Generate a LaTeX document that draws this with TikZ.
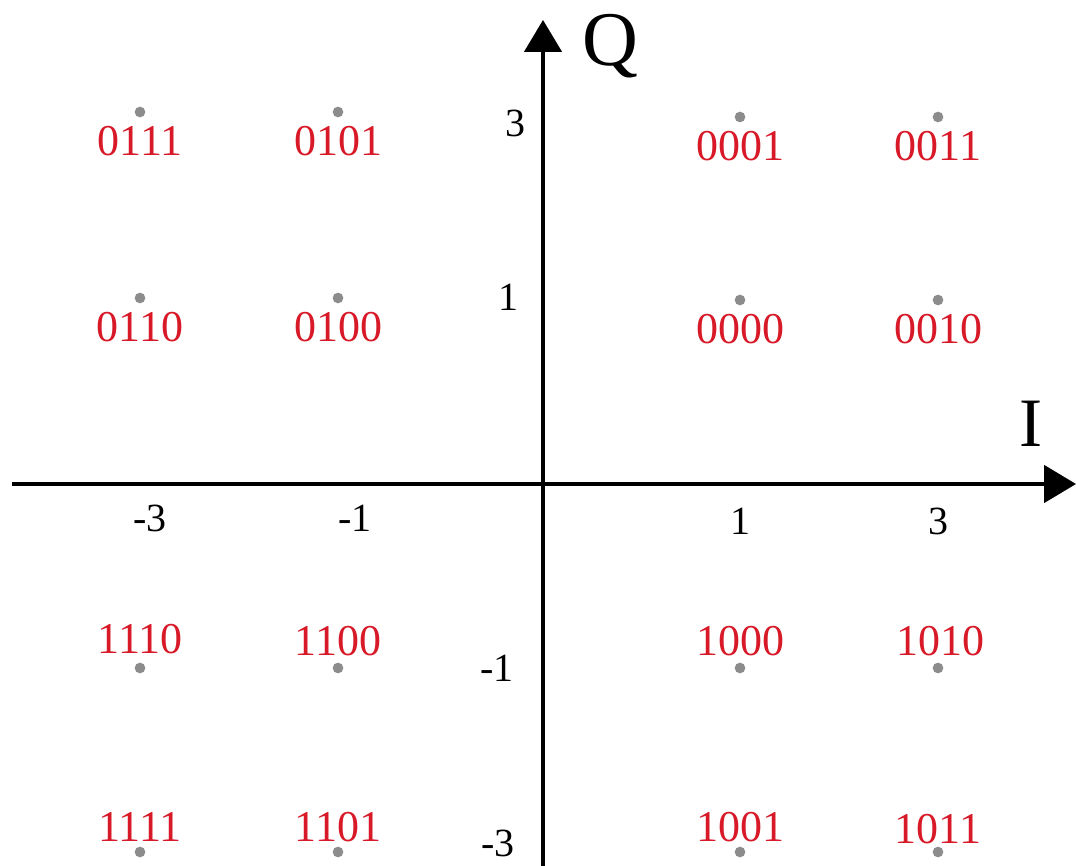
\documentclass[tikz,border=0pt]{standalone}
\usepackage{fontspec}
\setmainfont{Liberation Serif}
\usetikzlibrary{arrows.meta}
\definecolor{lblred}{RGB}{215,25,40}
\definecolor{dotgray}{RGB}{140,140,140}
\begin{document}
\begin{tikzpicture}[x=0.75pt,y=-0.75pt,
  axis/.style={line width=2.8pt,-{Triangle[length=24pt,width=28pt]}},
  pt/.style={circle,fill=dotgray,inner sep=0pt,minimum size=8pt},
  bits/.style={text=lblred,inner sep=0pt,font=\fontsize{33}{33}\selectfont},
  tick/.style={text=black,inner sep=0pt,font=\fontsize{30}{30}\selectfont},
  axlbl/.style={text=black,inner sep=0pt}]
\useasboundingbox (0,0) rectangle (1076,866);
% axes
\coordinate (xs) at (12,484);
\coordinate (xe) at (1076,484);
\coordinate (ys) at (543,866);
\coordinate (ye) at (543,20);
\draw[axis] (xs) -- (xe);
\draw[axis] (ys) -- (ye);
\node[axlbl,font=\fontsize{58}{58}\selectfont] (Q) at (610,46) {Q};
\node[axlbl,font=\fontsize{52}{52}\selectfont] (I) at (1031,424) {I};
% tick labels
\node[tick] (tx1) at (150,518) {-3};
\node[tick] (tx2) at (355,518) {-1};
\node[tick] (tx3) at (740,521) {1};
\node[tick] (tx4) at (938,521) {3};
\node[tick] (ty1) at (515,123) {3};
\node[tick] (ty2) at (508,297) {1};
\node[tick] (ty3) at (497,668) {-1};
\node[tick] (ty4) at (498,843) {-3};
% constellation points
\foreach \n/\x/\y in {a/140/112,b/338/112,c/740/117,d/938/117,
                      e/140/298,f/338/298,g/740/300,h/938/300,
                      i/140/668,j/338/668,k/740/668,l/938/668,
                      m/140/852,n/338/852,o/740/852,p/938/852}
  \node[pt] (p\n) at (\x,\y) {};
% labels
\node[bits] (la) at (140,141) {0111};
\node[bits] (lb) at (338,141) {0101};
\node[bits] (lc) at (740,146) {0001};
\node[bits] (ld) at (938,146) {0011};
\node[bits] (le) at (140,327) {0110};
\node[bits] (lf) at (338,327) {0100};
\node[bits] (lg) at (740,329) {0000};
\node[bits] (lh) at (938,329) {0010};
\node[bits] (li) at (140,639) {1110};
\node[bits] (lj) at (338,641) {1100};
\node[bits] (lk) at (740,641) {1000};
\node[bits] (ll) at (940,641) {1010};
\node[bits] (lm) at (140,827) {1111};
\node[bits] (ln) at (338,827) {1101};
\node[bits] (lo) at (740,827) {1001};
\node[bits] (lp) at (938,829) {1011};
\end{tikzpicture}
\end{document}
